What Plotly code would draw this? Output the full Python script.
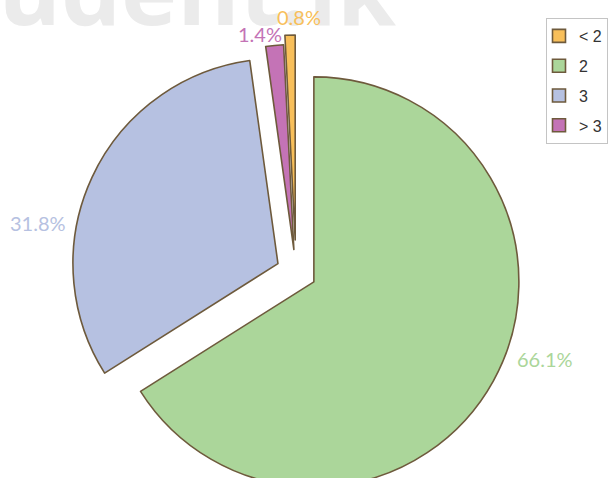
import plotly.graph_objects as go

# ---- data ----
labels = ["< 2", "2", "3", "> 3"]
values = [0.8, 66.1, 31.8, 1.4]
pct_text = ["0.8%", "66.1%", "31.8%", "1.4%"]

# ---- styles ----
colors = ["#F8BF5A", "#ABD69A", "#B6C1E1", "#C473B6"]
edge = "#6E5A3C"
pulls = [0.156, 0.0995, 0.097, 0.11]
# label anchor points (px from top-left of the window), one per slice
label_pos_px = [(299, 17), (545, 359), (38, 223), (260, 34)]

W, H = 613, 510  # figure is taller than the window; bottom is cropped like the reference


def px_x(p):
    return p / W


def px_y(p):
    return 1 - p / H


total = sum(values)
start_rot = -360.0 * values[0] / total  # the "2" slice starts at 12 o'clock

fig = go.Figure()
fig.add_trace(go.Pie(
    labels=labels,
    values=values,
    textinfo="none",
    sort=False,
    direction="clockwise",
    rotation=start_rot,
    pull=pulls,
    marker=dict(colors=colors, line=dict(color=edge, width=1.6)),
    showlegend=False,
    hoverinfo="skip",
    automargin=False,
    domain=dict(x=[px_x(59), px_x(533)], y=[px_y(509), px_y(35)]),
))

# legend entries (square swatches)
for lab, col in zip(labels, colors):
    fig.add_trace(go.Scatter(
        x=[None], y=[None], mode="markers", name=lab,
        marker=dict(symbol="square", size=13, color=col, line=dict(color=edge, width=1.6)),
        legendgroup=lab, hoverinfo="skip",
    ))

# watermark
fig.add_annotation(
    text="student.lk", xref="paper", yref="paper",
    x=px_x(398), y=px_y(55), xanchor="right", yanchor="bottom",
    showarrow=False,
    font=dict(family="Open Sans", size=95, color="#ebebeb", weight=700),
)

# percentage labels
for txt, col, (lx, ly) in zip(pct_text, colors, label_pos_px):
    fig.add_annotation(
        text=txt, xref="paper", yref="paper",
        x=px_x(lx), y=px_y(ly), xanchor="center", yanchor="middle",
        showarrow=False,
        font=dict(family="Lato", size=20, color=col),
    )

fig.update_layout(
    width=W, height=H,
    margin=dict(l=0, r=0, t=0, b=0, autoexpand=False),
    paper_bgcolor="white", plot_bgcolor="white",
    xaxis=dict(visible=False), yaxis=dict(visible=False),
    legend=dict(
        x=px_x(608), xanchor="right", y=px_y(18), yanchor="top",
        bgcolor="white", bordercolor="#c4c4c4", borderwidth=1,
        font=dict(family="Liberation Sans", size=16, color="#333333"),
        tracegroupgap=6, indentation=-8,
    ),
)

fig.write_html(
    "out.html",
    config={"displayModeBar": False},
    post_script="document.documentElement.style.overflow='hidden';document.body.style.margin='0';document.body.style.overflow='hidden';",
)
